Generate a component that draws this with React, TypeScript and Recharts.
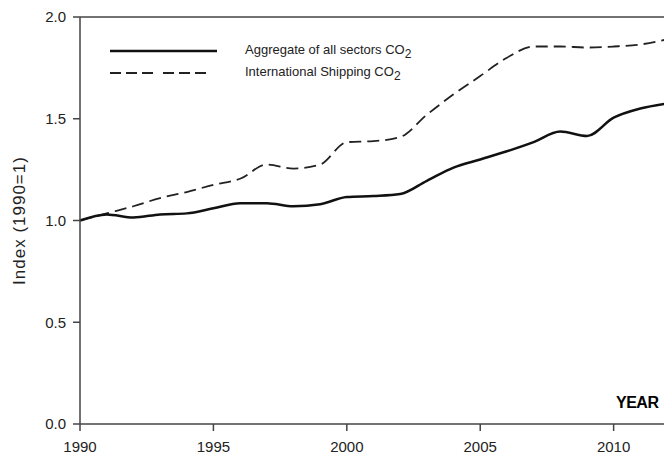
import React from 'react';
import {
  LineChart,
  Line,
  XAxis,
  YAxis,
  ReferenceLine,
} from 'recharts';

// years on the x axis
const years = [
  1990, 1991, 1992, 1993, 1994, 1995, 1996, 1997, 1998, 1999, 2000, 2001,
  2002, 2003, 2004, 2005, 2006, 2007, 2008, 2009, 2010, 2011, 2012,
];

// Aggregate of all sectors CO2, index 1990=1
const aggregate = [
  1.0, 1.03, 1.015, 1.03, 1.035, 1.06, 1.085, 1.085, 1.07, 1.08, 1.115, 1.12,
  1.13, 1.195, 1.26, 1.3, 1.34, 1.385, 1.437, 1.415, 1.505, 1.55, 1.575,
];

// International Shipping CO2, index 1990=1
const shipping = [
  1.0, 1.035, 1.07, 1.11, 1.14, 1.175, 1.205, 1.275, 1.255, 1.275, 1.385, 1.39,
  1.41, 1.52, 1.62, 1.71, 1.8, 1.855, 1.855, 1.85, 1.855, 1.865, 1.89,
];

const xTicks = [1990, 1995, 2000, 2005, 2010];
const yTicks = [0, 0.5, 1.0, 1.5, 2.0];

const data = years.map((year, i) => ({
  year,
  aggregate: aggregate[i],
  shipping: shipping[i],
}));

const font = 'Liberation Sans, Arial, Helvetica, sans-serif';
const axisColor = '#444';
const textColor = '#222';
const tickStyle = { fill: textColor, fontSize: 15, fontFamily: font };

const LegendBox = () => (
  <div style={{ position: 'absolute', left: 110, top: 40, fontFamily: font, fontSize: 13, color: textColor }}>
    <div style={{ display: 'flex', alignItems: 'center', height: 22 }}>
      <svg width={108} height={6} style={{ marginRight: 27 }}>
        <line x1={0} y1={3} x2={107} y2={3} stroke="#111" strokeWidth={2.5} />
      </svg>
      <span>
        Aggregate of all sectors CO<sub style={{ fontSize: 12, verticalAlign: -4 }}>2</sub>
      </span>
    </div>
    <div style={{ display: 'flex', alignItems: 'center', height: 22 }}>
      <svg width={108} height={6} style={{ marginRight: 27 }}>
        <line x1={0} y1={3} x2={96} y2={3} stroke="#222" strokeWidth={1.8} strokeDasharray="11 5 11 5 11 10" />
      </svg>
      <span>
        International Shipping CO<sub style={{ fontSize: 12, verticalAlign: -4 }}>2</sub>
      </span>
    </div>
  </div>
);

export default function App() {
  return (
    <div style={{ position: 'absolute', left: 0, top: 0, width: 664, height: 455, overflow: 'hidden', background: '#fff' }}>
      <LineChart
        width={700}
        height={455}
        data={data}
        margin={{ top: 17, right: 33, left: 0, bottom: 0 }}
      >
        <XAxis
          dataKey="year"
          type="number"
          domain={[1990, 2012]}
          ticks={xTicks}
          stroke={axisColor}
          strokeWidth={1.5}
          tickLine={{ stroke: axisColor, strokeWidth: 1.5 }}
          tickSize={7}
          tickMargin={10}
          height={31}
          tick={tickStyle}
        />
        <YAxis
          type="number"
          domain={[0, 2]}
          ticks={yTicks}
          tickFormatter={(v: number) => v.toFixed(1)}
          stroke={axisColor}
          strokeWidth={1.5}
          tickLine={{ stroke: axisColor, strokeWidth: 1.5 }}
          tickSize={7}
          tickMargin={7}
          width={80}
          tick={tickStyle}
          label={{
            value: 'Index (1990=1)',
            angle: -90,
            position: 'insideLeft',
            offset: 19,
            style: { textAnchor: 'middle', fill: textColor, fontSize: 17, fontFamily: font, letterSpacing: 1 },
          }}
        />
        <ReferenceLine y={2} stroke={axisColor} strokeWidth={1.5} />
        <Line
          type="monotone"
          dataKey="shipping"
          stroke="#222"
          strokeWidth={1.8}
          strokeDasharray="12 6"
          dot={false}
          isAnimationActive={false}
        />
        <Line
          type="monotone"
          dataKey="aggregate"
          stroke="#111"
          strokeWidth={2.5}
          dot={false}
          isAnimationActive={false}
        />
      </LineChart>
      <LegendBox />
      <div
        style={{
          position: 'absolute',
          left: 616,
          top: 394,
          fontFamily: font,
          fontWeight: 700,
          fontSize: 16,
          letterSpacing: -0.5,
          color: '#000',
        }}
      >
        YEAR
      </div>
    </div>
  );
}
